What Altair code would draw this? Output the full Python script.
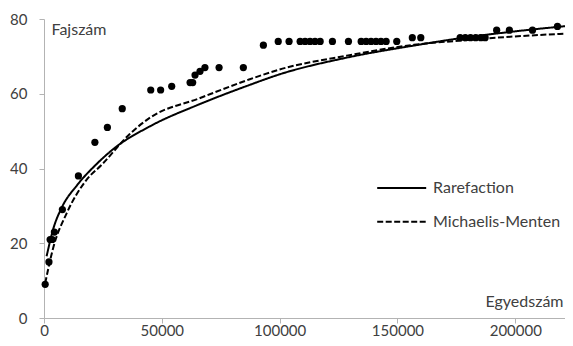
import altair as alt
import pandas as pd

# Observed points (Egyedszám, Fajszám)
obs_x = [500, 2100, 2600, 3500, 4400, 7800, 14600, 21600, 26900, 33200,
         45300, 49500, 54200, 62000, 63100, 64100, 66200, 68300, 74300, 84600,
         93100, 99400, 104000, 108700, 110800, 112900, 115000, 117200, 122400, 129200,
         134600, 136700, 138800, 140900, 143000, 145200, 149700, 156300, 159900,
         176600, 178800, 181000, 183200, 185400, 187200, 192100, 197500, 207300,
         217900, 223900]
obs_y = [9, 15, 21, 21, 23, 29, 38, 47, 51, 56,
         61, 61, 62, 63, 63, 65, 66, 67, 67, 67,
         73, 74, 74, 74, 74, 74, 74, 74, 74, 74,
         74, 74, 74, 74, 74, 74, 74, 75, 75,
         75, 75, 75, 75, 75, 75, 77, 77, 77,
         78, 78]

# Rarefaction curve
rare_x = [1100, 4000, 7500, 14000, 22000, 30000, 45000, 66000, 87000, 100000,
          128000, 157000, 175000, 200000, 225000]
rare_y = [16.5, 24, 29.5, 35.5, 41, 45.5, 51.3, 57.2, 62.3, 65.2,
          69.6, 72.9, 74.7, 76.7, 78.3]

# Michaelis-Menten curve
mm_x = [500, 4000, 9600, 18100, 24500, 36500, 45000, 66000, 87000, 100000,
        128500, 157000, 174000, 199000, 225000]
mm_y = [9.3, 19, 28, 37, 41, 49.3, 53.6, 58.8, 63.8, 66.5,
        70.2, 73.1, 74.1, 75.3, 76.2]

series_names = ["Rarefaction", "Michaelis-Menten"]

obs = pd.DataFrame({"x": obs_x, "y": obs_y})
curves = pd.concat([
    pd.DataFrame({"x": rare_x, "y": rare_y, "s": series_names[0]}),
    pd.DataFrame({"x": mm_x, "y": mm_y, "s": series_names[1]}),
])

FONT = "Lato"
TXT = "#404040"
AX = "#b3b3b3"

xscale = alt.Scale(domain=[0, 221100], nice=False)
yscale = alt.Scale(domain=[0, 80], nice=False)

xaxis = alt.Axis(values=[0, 50000, 100000, 150000, 200000], format="d",
                 grid=False, domainColor=AX, tickColor=AX, tickSize=5,
                 labelFont=FONT, labelFontSize=15, labelColor=TXT, labelPadding=12,
                 labelBaseline="alphabetic", labelFlush=False,
                 title="Egyedszám", titleFont=FONT, titleFontSize=16, titleFontWeight="normal",
                 titleColor=TXT, titleAngle=0, titleAlign="right", titleBaseline="alphabetic",
                 titleX=519, titleY=-12)
yaxis = alt.Axis(values=[0, 20, 40, 60, 80], grid=False, domainColor=AX, tickColor=AX,
                 tickSize=5, labelFont=FONT, labelFontSize=15, labelColor=TXT,
                 labelPadding=12,
                 title="Fajszám", titleFont=FONT, titleFontSize=16, titleFontWeight="normal",
                 titleColor=TXT, titleAngle=0, titleAlign="left", titleBaseline="alphabetic",
                 titleX=7, titleY=15)

points = alt.Chart(obs).mark_circle(size=52, color="black", opacity=1).encode(
    x=alt.X("x:Q", scale=xscale, axis=xaxis),
    y=alt.Y("y:Q", scale=yscale, axis=yaxis),
)

lines = alt.Chart(curves).mark_line(color="black", strokeWidth=2, interpolate="monotone").encode(
    x=alt.X("x:Q", scale=xscale),
    y=alt.Y("y:Q", scale=yscale),
    strokeDash=alt.StrokeDash(
        "s:N",
        scale=alt.Scale(domain=series_names, range=[[1, 0], [6, 2.5]]),
        legend=alt.Legend(
            title=None, orient="none", legendX=346.7, legendY=158,
            symbolType="M-2.5,0L2.5,0", symbolSize=384, symbolStrokeColor="black",
            symbolStrokeWidth=2, labelFont=FONT, labelFontSize=16, labelColor=TXT,
            labelOffset=20.4, rowPadding=14.7, padding=0,
        ),
    ),
    detail="s:N",
)

chart = alt.layer(lines, points).properties(
    width=521, height=299,
    autosize=alt.AutoSizeParams(type="none"),
    padding={"left": 36, "top": 11, "right": 0, "bottom": 20},
).configure_view(stroke=None)

chart.save("out.html", embed_options={"renderer": "svg", "actions": False})
